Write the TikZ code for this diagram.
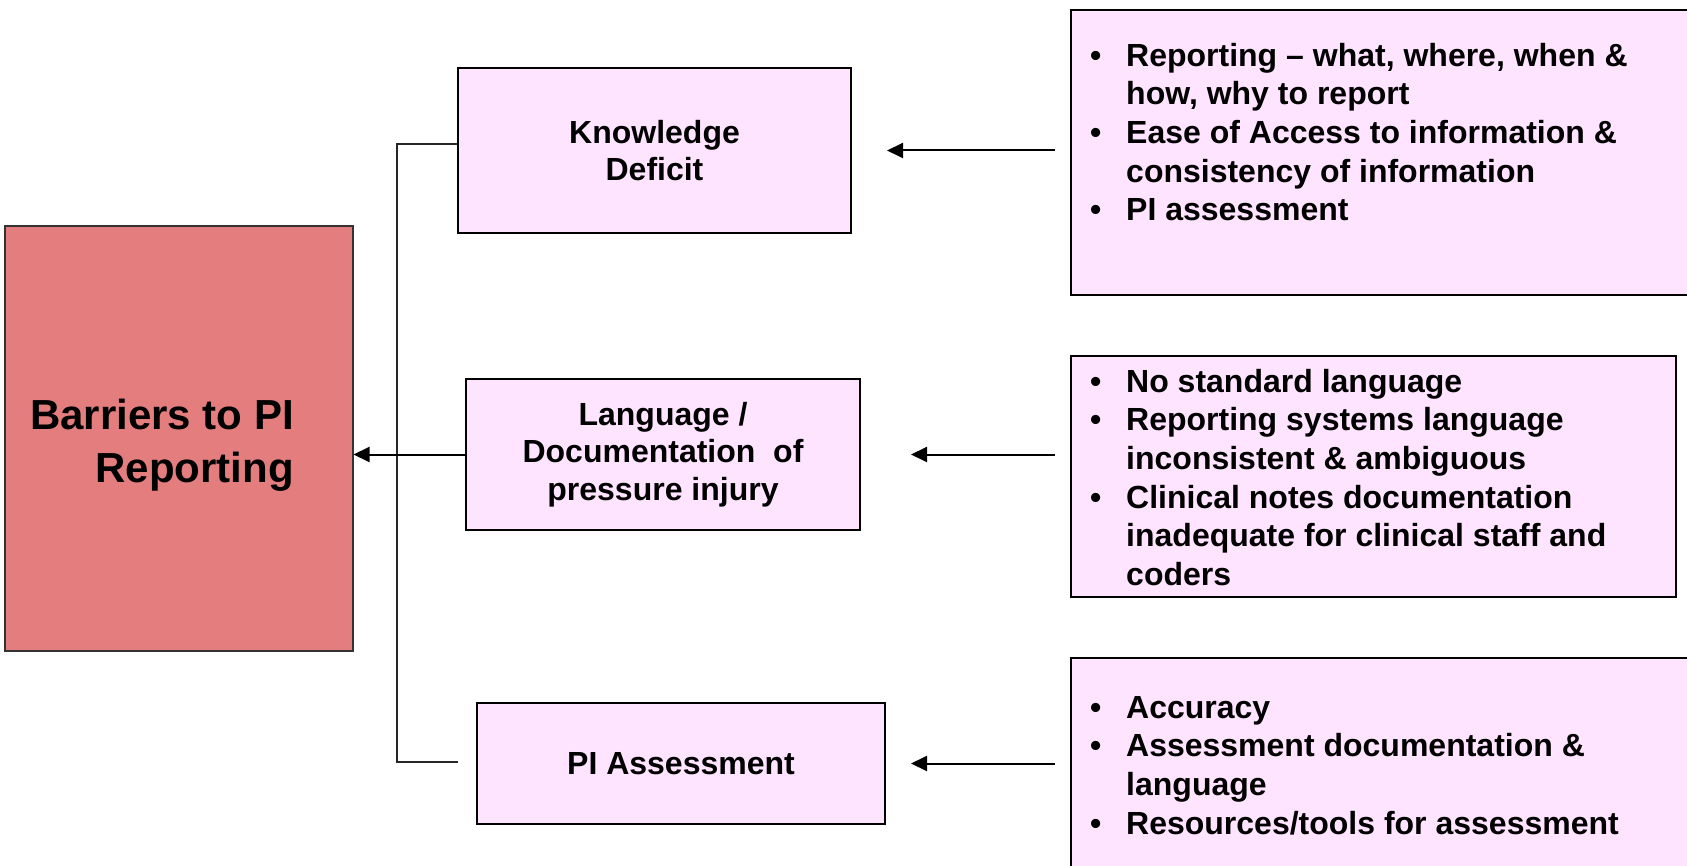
\documentclass[tikz,border=0pt]{standalone}
\usepackage{fontspec}
\setmainfont{Liberation Sans}
\usetikzlibrary{arrows.meta}
\definecolor{pinkfill}{RGB}{255,228,255}
\definecolor{redfill}{RGB}{228,126,126}
\begin{document}
\begin{tikzpicture}[x=1pt,y=-1pt,
  pbox/.style={draw=black, line width=2pt, fill=pinkfill, inner sep=0pt, align=center,
    font=\fontsize{32}{37.5}\selectfont\bfseries},
  rbox/.style={draw=black, line width=2pt, fill=pinkfill, inner sep=0pt, anchor=north west},
  mainbox/.style={draw=black!80, line width=2pt, fill=redfill, inner sep=0pt},
  listtext/.style={anchor=north west, inner sep=0pt, align=left,
    font=\fontsize{32}{38.6}\selectfont\bfseries},
  arr/.style={line width=2pt, -{Triangle[length=16pt,width=15pt]}},
  tree/.style={line width=1.8pt, draw=black!85}
]
\useasboundingbox (0,0) rectangle (1687,866);
\clip (0,0) rectangle (1687,866);

% main box
\node[mainbox, minimum width=348pt, minimum height=424pt] (main) at (178.5,438.5) {};
\node[anchor=east, inner sep=0pt, align=right, font=\fontsize{42}{53}\selectfont\bfseries]
  (maintext) at (294,445) {Barriers to PI\\Reporting};

% middle boxes
\node[pbox, minimum width=393pt, minimum height=165pt] (k) at (654.5,150.5) {Knowledge\\Deficit};
\node[pbox, minimum width=394pt, minimum height=151pt] (l) at (663,454.5) {Language /\\Documentation\ \ of\\pressure injury};
\node[pbox, minimum width=408pt, minimum height=121pt] (pa) at (681,763.5) {PI Assessment};

% right boxes
\node[rbox, minimum width=640pt, minimum height=285pt] (r1) at (1070,9) {};
\node[rbox, minimum width=605pt, minimum height=241pt] (r2) at (1070,355) {};
\node[rbox, minimum width=640pt, minimum height=240pt] (r3) at (1070,657) {};

\node[listtext] (t1) at (1090,39) {%
\begin{tabular}{@{}p{36pt}@{}l@{}}
\textbullet & Reporting – what, where, when \&\\
 & how, why to report\\
\textbullet & Ease of Access to information \&\\
 & consistency of information\\
\textbullet & PI assessment
\end{tabular}};
\node[listtext] (t2) at (1090,365) {%
\begin{tabular}{@{}p{36pt}@{}l@{}}
\textbullet & No standard language\\
\textbullet & Reporting systems language\\
 & inconsistent \& ambiguous\\
\textbullet & Clinical notes documentation\\
 & inadequate for clinical staff and\\
 & coders
\end{tabular}};
\node[listtext] (t3) at (1090,691) {%
\begin{tabular}{@{}p{36pt}@{}l@{}}
\textbullet & Accuracy\\
\textbullet & Assessment documentation \&\\
 & language\\
\textbullet & Resources/tools for assessment
\end{tabular}};

% tree connector
\coordinate (ta) at (397,144);
\coordinate (tb) at (397,762);
\coordinate (tc) at (458,762);
\draw[tree] (k.west |- ta) -- (ta) -- (tb) -- (tc);

% arrows
\draw[arr, shorten <=15pt, shorten >=35pt] (r1.west |- k.east) -- (k.east);
\draw[arr, shorten <=15pt, shorten >=50pt] (r2.west |- l.east) -- (l.east);
\draw[arr, shorten <=15pt, shorten >=25pt] (r3.west |- pa.east) -- (pa.east);
\draw[arr] (l.west) -- (main.east |- l.west);
\end{tikzpicture}
\end{document}
